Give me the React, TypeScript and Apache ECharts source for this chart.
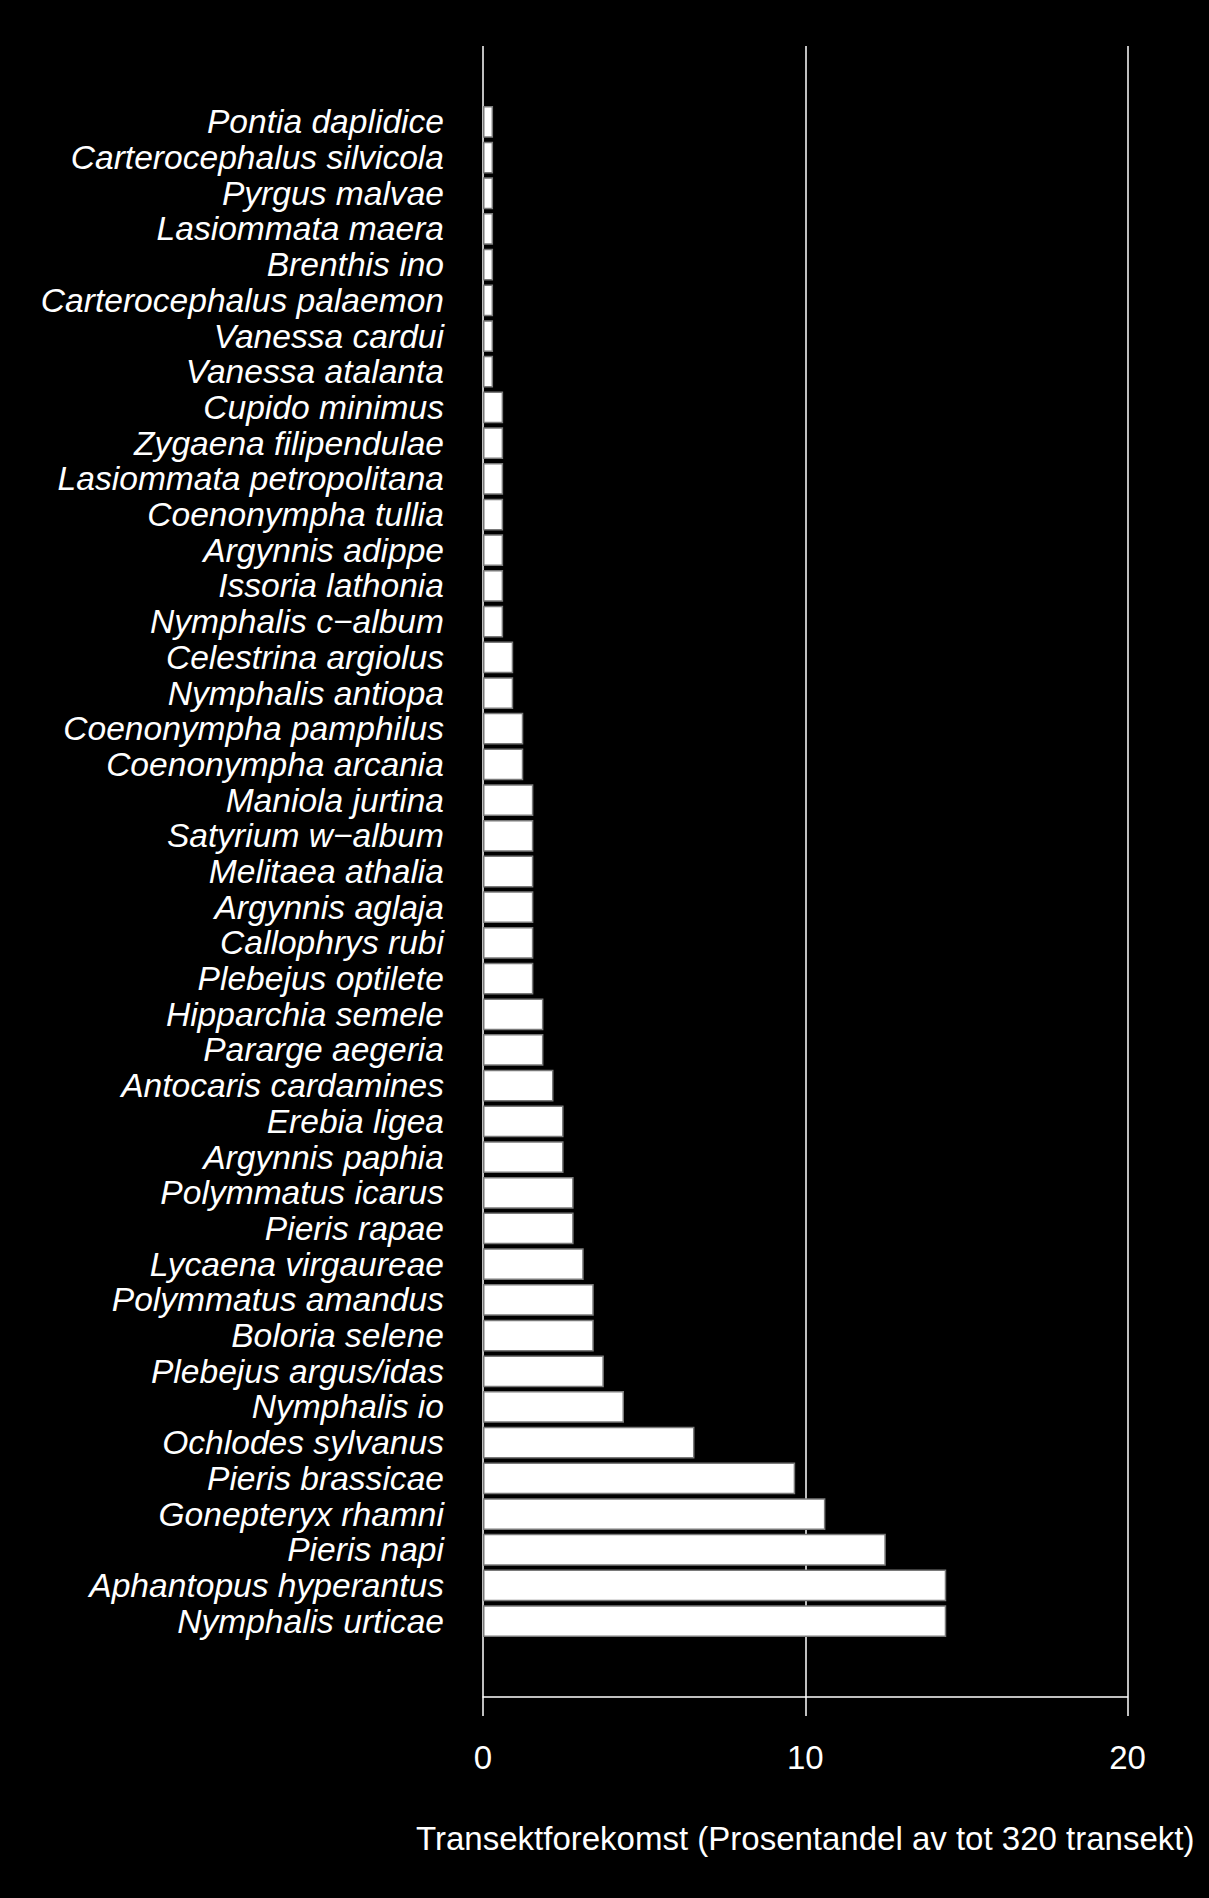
import React, { useEffect, useRef } from "react";
import * as echarts from "echarts";

const species: string[] = [
  "Pontia daplidice",
  "Carterocephalus silvicola",
  "Pyrgus malvae",
  "Lasiommata maera",
  "Brenthis ino",
  "Carterocephalus palaemon",
  "Vanessa cardui",
  "Vanessa atalanta",
  "Cupido minimus",
  "Zygaena filipendulae",
  "Lasiommata petropolitana",
  "Coenonympha tullia",
  "Argynnis adippe",
  "Issoria lathonia",
  "Nymphalis c\u2212album",
  "Celestrina argiolus",
  "Nymphalis antiopa",
  "Coenonympha pamphilus",
  "Coenonympha arcania",
  "Maniola jurtina",
  "Satyrium w\u2212album",
  "Melitaea athalia",
  "Argynnis aglaja",
  "Callophrys rubi",
  "Plebejus optilete",
  "Hipparchia semele",
  "Pararge aegeria",
  "Antocaris cardamines",
  "Erebia ligea",
  "Argynnis paphia",
  "Polymmatus icarus",
  "Pieris rapae",
  "Lycaena virgaureae",
  "Polymmatus amandus",
  "Boloria selene",
  "Plebejus argus/idas",
  "Nymphalis io",
  "Ochlodes sylvanus",
  "Pieris brassicae",
  "Gonepteryx rhamni",
  "Pieris napi",
  "Aphantopus hyperantus",
  "Nymphalis urticae",
];

// Percentage of 320 transects
const percent: number[] = [
  0.3125, 0.3125, 0.3125, 0.3125, 0.3125, 0.3125, 0.3125, 0.3125,
  0.625, 0.625, 0.625, 0.625, 0.625, 0.625, 0.625,
  0.9375, 0.9375,
  1.25, 1.25,
  1.5625, 1.5625, 1.5625, 1.5625, 1.5625, 1.5625,
  1.875, 1.875,
  2.1875,
  2.5, 2.5,
  2.8125, 2.8125,
  3.125,
  3.4375, 3.4375,
  3.75,
  4.375,
  6.5625,
  9.6875,
  10.625,
  12.5,
  14.375,
  14.375,
];

const xTicks: number[] = [0, 10, 20];
const xTitle = "Transektforekomst (Prosentandel av tot 320 transekt)";

const FONT = "'Liberation Sans', Arial, Helvetica, sans-serif";

export default function App() {
  const ref = useRef<HTMLDivElement>(null);

  useEffect(() => {
    if (!ref.current) return;
    const chart = echarts.init(ref.current, null, { renderer: "svg" });
    const gridLeft = 483;
    const gridRight = 1209 - 1127.5;
    chart.setOption({
      animation: false,
      backgroundColor: "#000000",
      grid: [
        { left: gridLeft, right: gridRight, top: 46, bottom: 1898 - 1697 },
        { left: gridLeft, right: gridRight, top: 104, bottom: 1898 - 1639 },
      ],
      xAxis: [
        {
          gridIndex: 0,
          type: "value",
          min: xTicks[0],
          max: xTicks[xTicks.length - 1],
          interval: 10,
          axisLine: { show: true, onZero: false, lineStyle: { color: "#ffffff", width: 1.5 } },
          axisTick: { show: true, length: 19, lineStyle: { color: "#ffffff", width: 1.5 } },
          splitLine: { show: true, lineStyle: { color: "#ffffff", width: 1.5 } },
          axisLabel: {
            color: "#ffffff",
            fontFamily: FONT,
            fontSize: 33,
            margin: 44,
          },
          name: xTitle,
          nameLocation: "middle",
          nameGap: 125,
          nameTextStyle: { color: "#ffffff", fontFamily: FONT, fontSize: 33 },
        },
        {
          gridIndex: 1,
          type: "value",
          min: xTicks[0],
          max: xTicks[xTicks.length - 1],
          show: false,
        },
      ],
      yAxis: [
        { gridIndex: 0, type: "value", show: false, min: 0, max: 1 },
        {
          gridIndex: 1,
          type: "category",
          data: species,
          inverse: true,
          axisLine: { show: false },
          axisTick: { show: false },
          splitLine: { show: false },
          axisLabel: {
            color: "#ffffff",
            fontFamily: FONT,
            fontStyle: "italic",
            fontSize: 33.6,
            margin: 39,
            interval: 0,
          },
        },
      ],
      series: [
        {
          type: "bar",
          xAxisIndex: 1,
          yAxisIndex: 1,
          data: percent,
          barCategoryGap: "11%",
          itemStyle: { color: "#ffffff", borderColor: "#7a7a7a", borderWidth: 1.5 },
          silent: true,
        },
      ],
    });
    return () => chart.dispose();
  }, []);

  return (
    <div
      ref={ref}
      style={{ position: "absolute", left: 0, top: 0, width: 1209, height: 1898, background: "#000" }}
    />
  );
}
